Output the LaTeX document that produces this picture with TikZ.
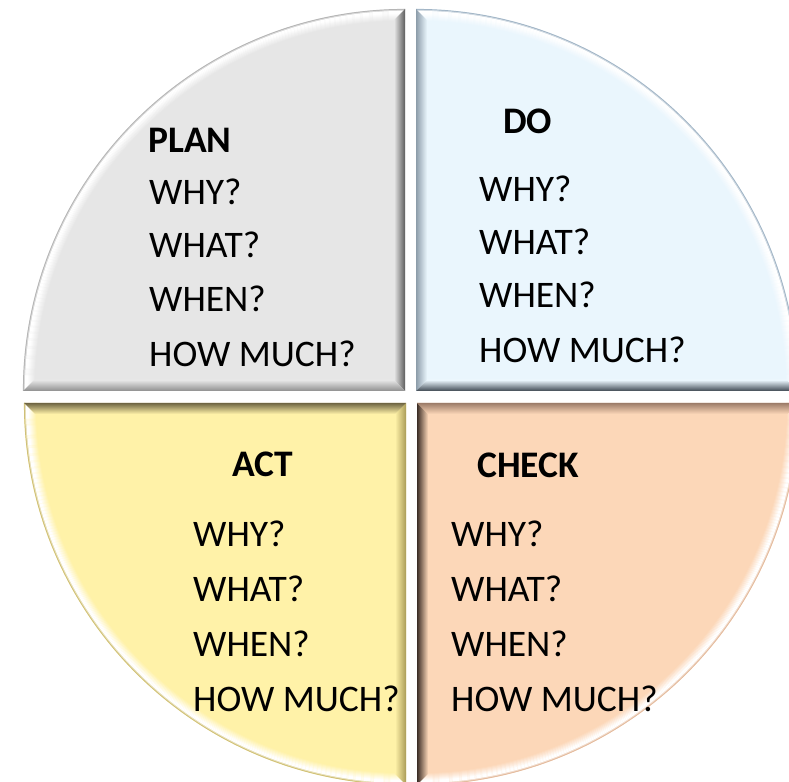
\documentclass[tikz,border=0pt]{standalone}
\usepackage{fontspec}
\setmainfont{Carlito}

% face, bevel and rim colours of the four quarters
\definecolor{planface}{HTML}{E6E6E6}
\definecolor{planedge}{HTML}{5C5C5C}
\definecolor{planlow}{HTML}{8E8E8E}
\definecolor{planrim}{HTML}{B5B5B5}
\definecolor{doface}{HTML}{EAF6FD}
\definecolor{doside}{HTML}{8D9DAA}
\definecolor{dolow}{HTML}{3E4852}
\definecolor{dorim}{HTML}{A2B5C6}
\definecolor{actface}{HTML}{FFF2A8}
\definecolor{acttop}{HTML}{6F6543}
\definecolor{actside}{HTML}{A99B57}
\definecolor{actrim}{HTML}{CFC077}
\definecolor{checkface}{HTML}{FCD7B8}
\definecolor{checkside}{HTML}{3B2D26}
\definecolor{checktop}{HTML}{9C7C69}
\definecolor{checkrim}{HTML}{E3BB9E}

% flat face of a quarter disc: corner x, corner y, start angle, colour
\newcommand\sectorface[4]{%
  \fill[#4] (#1,#2) -- ([shift={(#3:382)}]#1,#2)
    arc[start angle=#3, delta angle=90, radius=382] -- cycle;}

% light bevel along the curved rim: corner x, corner y, start angle, face, rim
\newcommand\rimring[5]{%
  \foreach \i in {0,...,12}{%
    \pgfmathtruncatemacro\p{\i<5 ? 100 : max(0,100-(\i-4)*13)}%
    \pgfmathtruncatemacro\q{50*\i}%
    \ifnum\i<2 \colorlet{ringc}{white!\q!#5}\else\colorlet{ringc}{white!\p!#4}\fi
    \pgfmathsetmacro\r{381.5-\i}%
    \draw[ringc, line width=1.15pt]
      ([shift={(#3:\r)}]#1,#2) arc[start angle=#3, delta angle=90, radius=\r];
  }}

\begin{document}
\begin{tikzpicture}[x=1pt, y=1pt,
    heading/.style={font=\fontsize{37.5}{45}\selectfont\bfseries, anchor=base west, inner sep=0pt},
    qline/.style={font=\fontsize{37.5}{45}\selectfont, anchor=base west, inner sep=0pt}]
  \useasboundingbox (0,0) rectangle (789,781);
  \clip (0,0) rectangle (789,781);

  % ---- PLAN (upper left) ----
  \sectorface{405}{390}{90}{planface}
  \rimring{405}{390}{90}{planface}{planrim}
  \shade[left color=planface, right color=planedge]
    (405,390) -- (405,772) -- (394,760.8) -- (394,401) -- cycle;
  \shade[top color=planface, bottom color=planlow]
    (405,390) -- (23,390) -- (34.2,401) -- (394,401) -- cycle;

  % ---- DO (upper right) ----
  \sectorface{416}{390}{0}{doface}
  \rimring{416}{390}{0}{doface}{dorim}
  \shade[left color=doside, right color=doface]
    (416,390) -- (416,772) -- (427,760.8) -- (427,401) -- cycle;
  \shade[top color=doface, bottom color=dolow]
    (416,390) -- (798,390) -- (786.8,401) -- (427,401) -- cycle;

  % ---- ACT (lower left) ----
  \sectorface{406}{378}{180}{actface}
  \rimring{406}{378}{180}{actface}{actrim}
  \shade[left color=actface, right color=actside]
    (406,378) -- (406,-4) -- (395,7.2) -- (395,367) -- cycle;
  \shade[top color=acttop, bottom color=actface]
    (406,378) -- (24,378) -- (35.2,367) -- (395,367) -- cycle;

  % ---- CHECK (lower right) ----
  \sectorface{417}{378}{270}{checkface}
  \rimring{417}{378}{270}{checkface}{checkrim}
  \shade[left color=checkside, right color=checkface]
    (417,378) -- (417,-4) -- (428,7.2) -- (428,367) -- cycle;
  \shade[top color=checktop, bottom color=checkface]
    (417,378) -- (799,378) -- (787.8,367) -- (428,367) -- cycle;

  % ---- texts ----
  \node[heading] (planT) at (148,628) {PLAN};
  \node[qline] (planA) at (149,576) {WHY?};
  \node[qline] (planB) at (149,523) {WHAT?};
  \node[qline] (planC) at (149,469) {WHEN?};
  \node[qline] (planD) at (149,414) {HOW MUCH?};

  \node[heading] (doT) at (503,647) {DO};
  \node[qline] (doA) at (479,579) {WHY?};
  \node[qline] (doB) at (479,526) {WHAT?};
  \node[qline] (doC) at (479,473) {WHEN?};
  \node[qline] (doD) at (479,418) {HOW MUCH?};

  \node[heading] (actT) at (232,304) {ACT};
  \node[qline] (actA) at (193,234) {WHY?};
  \node[qline] (actB) at (193,179) {WHAT?};
  \node[qline] (actC) at (193,124) {WHEN?};
  \node[qline] (actD) at (193,69) {HOW MUCH?};

  \node[heading] (checkT) at (477,303) {CHECK};
  \node[qline] (checkA) at (451,234) {WHY?};
  \node[qline] (checkB) at (451,179) {WHAT?};
  \node[qline] (checkC) at (451,124) {WHEN?};
  \node[qline] (checkD) at (451,69) {HOW MUCH?};
\end{tikzpicture}
\end{document}
